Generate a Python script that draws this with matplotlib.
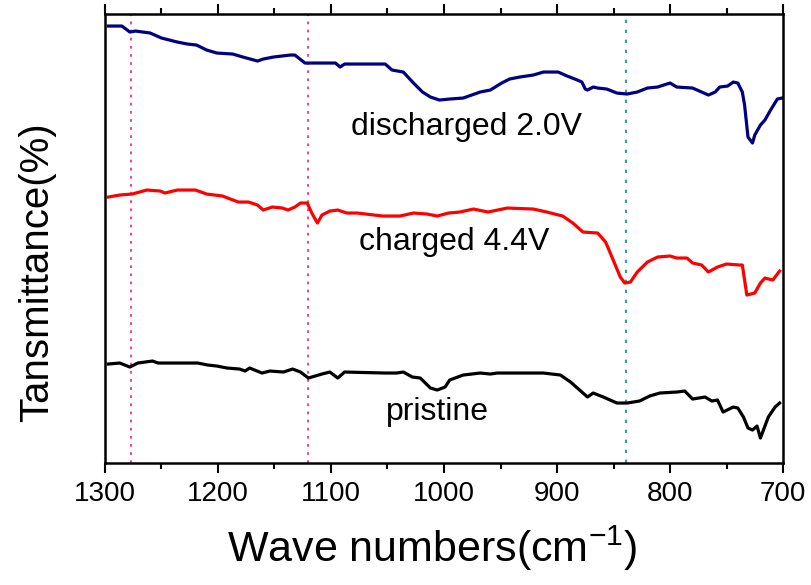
import matplotlib
matplotlib.use('Agg')
import matplotlib.pyplot as plt
from matplotlib.ticker import MultipleLocator

# wavenumbers (cm-1) and transmittance (arbitrary, offset)
wn_discharged = [1297, 1285, 1278, 1273, 1260, 1250, 1236, 1227, 1219, 1210, 1201, 1187, 1178,
                 1165, 1160, 1151, 1136, 1132, 1123, 1112, 1096, 1092, 1088, 1052, 1046, 1036,
                 1027, 1019, 1012, 1004, 995, 983, 968, 959, 949, 942, 933, 921, 912, 899, 891,
                 882, 878, 875, 873, 868, 864, 856, 847, 838, 829, 820, 811, 800, 794, 780, 772,
                 766, 760, 756, 749, 744, 740, 736, 734, 731, 727, 725, 720, 716, 711, 705, 701]
tr_discharged = [437, 437, 431, 432, 430, 425, 421, 419, 418, 413, 410, 409, 406,
                 402, 404, 406, 408, 408, 400, 400, 400, 396, 399, 399, 393, 391,
                 380, 371, 366, 363, 364, 365, 371, 373, 380, 384, 386, 388, 391, 391, 387,
                 383, 381, 374, 373, 376, 375, 374, 370, 369, 371, 375, 376, 380, 376, 375, 371,
                 368, 371, 376, 377, 381, 380, 371, 358, 326, 320, 328, 338, 343, 353, 364, 365]

wn_charged = [1297, 1287, 1276, 1263, 1251, 1247, 1236, 1220, 1210, 1196, 1182, 1173, 1165,
              1160, 1152, 1143, 1138, 1132, 1127, 1121, 1117, 1112, 1108, 1101, 1094, 1086,
              1077, 1054, 1039, 1027, 1015, 1006, 996, 986, 974, 961, 944, 921, 909, 895, 886,
              877, 864, 857, 851, 844, 840, 835, 829, 820, 811, 800, 794, 785, 780, 772, 766,
              758, 750, 738, 736, 732, 725, 720, 716, 709, 703]
tr_charged = [266, 268, 269, 273, 272, 270, 273, 273, 269, 267, 261, 261, 258,
              253, 256, 255, 253, 256, 260, 260, 250, 240, 248, 252, 253, 250,
              250, 247, 247, 250, 249, 247, 250, 251, 254, 251, 255, 254, 251, 247, 240,
              231, 230, 221, 205, 186, 180, 181, 191, 201, 206, 207, 205, 205, 200, 198, 191,
              196, 199, 198, 198, 168, 170, 180, 185, 183, 192]

wn_pristine = [1297, 1287, 1278, 1271, 1258, 1253, 1247, 1218, 1209, 1201, 1192, 1181, 1176,
               1172, 1161, 1154, 1142, 1134, 1127, 1120, 1108, 1101, 1094, 1088, 1052, 1042,
               1036, 1028, 1021, 1012, 1006, 999, 995, 983, 968, 959, 953, 912, 897, 888, 880,
               873, 868, 859, 847, 838, 827, 818, 809, 794, 787, 780, 769, 763, 758, 753, 744,
               740, 735, 731, 727, 723, 720, 718, 713, 707, 703]
tr_pristine = [99, 100, 96, 100, 102, 100, 100, 100, 98, 97, 95, 94, 92,
               95, 90, 92, 91, 94, 91, 85, 89, 91, 85, 91, 90, 90,
               91, 86, 85, 75, 73, 76, 83, 88, 90, 89, 90, 90, 88, 81, 73,
               66, 70, 66, 60, 60, 62, 67, 70, 71, 72, 64, 66, 62, 63, 51, 56,
               55, 46, 35, 33, 37, 25, 31, 46, 56, 60]

pink_lines = [1277, 1120]
teal_lines = [839]

labels = ['discharged 2.0V', 'charged 4.4V', 'pristine']
label_x = [980, 991, 1006]
label_y = [336, 221, 51]


def main():
    plt.rcParams['font.family'] = ['Liberation Sans', 'DejaVu Sans']
    plt.rcParams['mathtext.fontset'] = 'custom'
    plt.rcParams['mathtext.rm'] = 'Liberation Sans'

    fig = plt.figure(figsize=(8.12, 5.85), dpi=100)
    ax = fig.add_axes([0.1293, 0.2085, 0.835, 0.7675])

    for x in pink_lines:
        ax.axvline(x, color='#ff2a8a', lw=1.3, ls=(0, (1.5, 3)))
    for x in teal_lines:
        ax.axvline(x, color='#3a9e9e', lw=1.6, ls=(0, (1.5, 3)))

    ax.plot(wn_discharged, tr_discharged, color='#000080', lw=2.3)
    ax.plot(wn_charged, tr_charged, color='#ff0000', lw=2.3)
    ax.plot(wn_pristine, tr_pristine, color='black', lw=2.3)

    for txt, x, y in zip(labels, label_x, label_y):
        ax.text(x, y, txt, fontsize=23, ha='center', va='center')

    ax.set_xlim(1300, 700)
    ax.set_ylim(0, 449)
    ax.xaxis.set_major_locator(MultipleLocator(100))
    ax.xaxis.set_minor_locator(MultipleLocator(50))
    ax.set_yticks([])

    ax.tick_params(axis='x', which='major', direction='out', length=7, width=1.5,
                   labelsize=20, top=True, pad=6)
    ax.tick_params(axis='x', which='minor', direction='out', length=4, width=1.5, top=True)
    ax.tick_params(axis='x', which='both', labeltop=False)

    for spine in ax.spines.values():
        spine.set_linewidth(1.8)

    ax.set_xlabel('Wave numbers(cm$^{\\mathregular{-1}}$)', fontsize=31)
    ax.xaxis.set_label_coords(0.482, -0.135)
    ax.set_ylabel('Tansmittance(%)', fontsize=29)
    ax.yaxis.set_label_coords(-0.072, 0.425)

    fig.savefig('out.png', dpi=100)
    plt.close()


if __name__ == '__main__':
    main()
